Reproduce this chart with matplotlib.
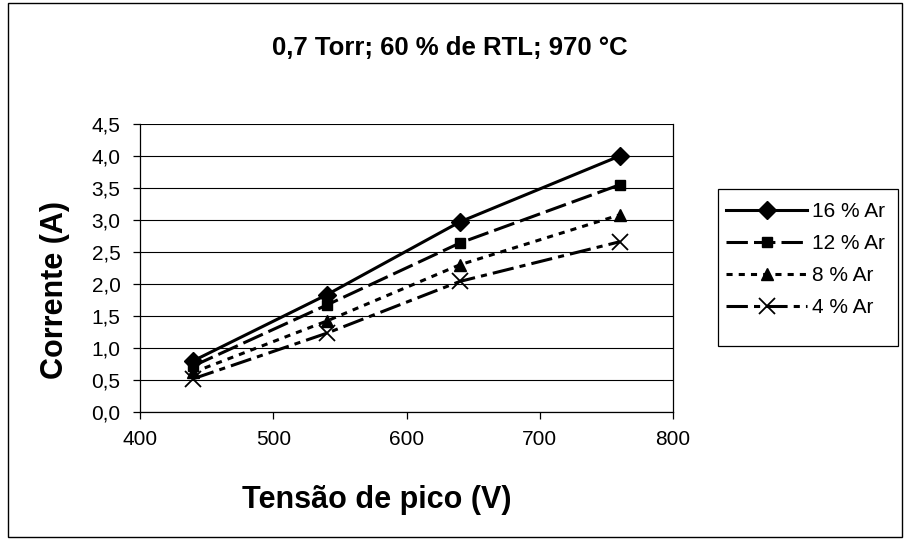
import matplotlib
matplotlib.use("Agg")
import matplotlib.pyplot as plt
from matplotlib.patches import Rectangle

plt.rcParams['font.family'] = ['Liberation Sans', 'DejaVu Sans']

voltage = [440, 540, 640, 760]
ar16 = [0.80, 1.83, 2.97, 4.00]
ar12 = [0.72, 1.67, 2.64, 3.55]
ar8 = [0.62, 1.42, 2.30, 3.08]
ar4 = [0.52, 1.23, 2.04, 2.66]
labels = ['16 % Ar', '12 % Ar', '8 % Ar', '4 % Ar']
xticks = [400, 500, 600, 700, 800]
yticks = [0.0, 0.5, 1.0, 1.5, 2.0, 2.5, 3.0, 3.5, 4.0, 4.5]

W, H = 905, 539
fig = plt.figure(figsize=(W / 100, H / 100), dpi=100)
ax = fig.add_axes([140 / W, 1 - 412 / H, (673 - 140) / W, (412 - 124) / H])

lw = 2.2
ax.plot(voltage, ar16, color='black', lw=lw, ls='-', marker='D', ms=9, label=labels[0], zorder=5)
ax.plot(voltage, ar12, color='black', lw=lw, ls=(0, (7, 2)), marker='s', ms=7.5, label=labels[1], zorder=5)
ax.plot(voltage, ar8, color='black', lw=lw, ls=(0, (2, 2)), marker='^', ms=8.5, label=labels[2], zorder=5)
ax.plot(voltage, ar4, color='black', lw=lw, ls=(0, (7, 2, 2, 2)), marker='x', ms=11, mew=1.3,
        label=labels[3], zorder=5)

ax.set_xlim(400, 800)
ax.set_ylim(0, 4.5)
ax.set_xticks(xticks)
ax.set_yticks(yticks)
ax.set_xticklabels([str(v) for v in xticks], fontsize=15)
ax.set_yticklabels([f"{v:.1f}".replace('.', ',') for v in yticks], fontsize=15)
ax.tick_params(direction='out', length=5, width=0.9, color='black')
ax.tick_params(axis='y', pad=9)
ax.tick_params(axis='x', pad=8)
ax.yaxis.grid(True, color='black', lw=0.8)
ax.set_axisbelow(True)
for s in ['left', 'bottom', 'right', 'top']:
    ax.spines[s].set_color('black')
    ax.spines[s].set_linewidth(0.9)
ax.spines['top'].set_visible(False)

ax.set_xlabel('Tensão de pico (V)', fontsize=22, fontweight='bold')
ax.set_ylabel('Corrente (A)', fontsize=22, fontweight='bold')
ax.xaxis.set_label_coords(377 / W, 1 - 500 / H, transform=fig.transFigure)
ax.yaxis.set_label_coords(55 / W, 1 - 290 / H, transform=fig.transFigure)
ax.xaxis.label.set_va('center')
ax.yaxis.label.set_va('center')
fig.text(450 / W, 1 - 48 / H, '0,7 Torr; 60 % de RTL; 970 °C', fontsize=18.5, fontweight='bold',
         ha='center', va='center')

leg = fig.legend(loc='upper left', bbox_to_anchor=(726 / W, 1 - 202 / H), fontsize=15,
                 handlelength=3.9, handletextpad=0.25, labelspacing=0.63, borderpad=0.0,
                 frameon=False, borderaxespad=0)

fig.patches.append(Rectangle((718 / W, 1 - 346 / H), (898 - 718) / W, (346 - 189) / H,
                             transform=fig.transFigure, fill=False, edgecolor='black', lw=0.9))
fig.patches.append(Rectangle((8 / W, 2 / H), 894 / W, 534 / H, transform=fig.transFigure,
                             fill=False, edgecolor='black', lw=1.0))

fig.savefig('out.png', dpi=100, facecolor='white')
